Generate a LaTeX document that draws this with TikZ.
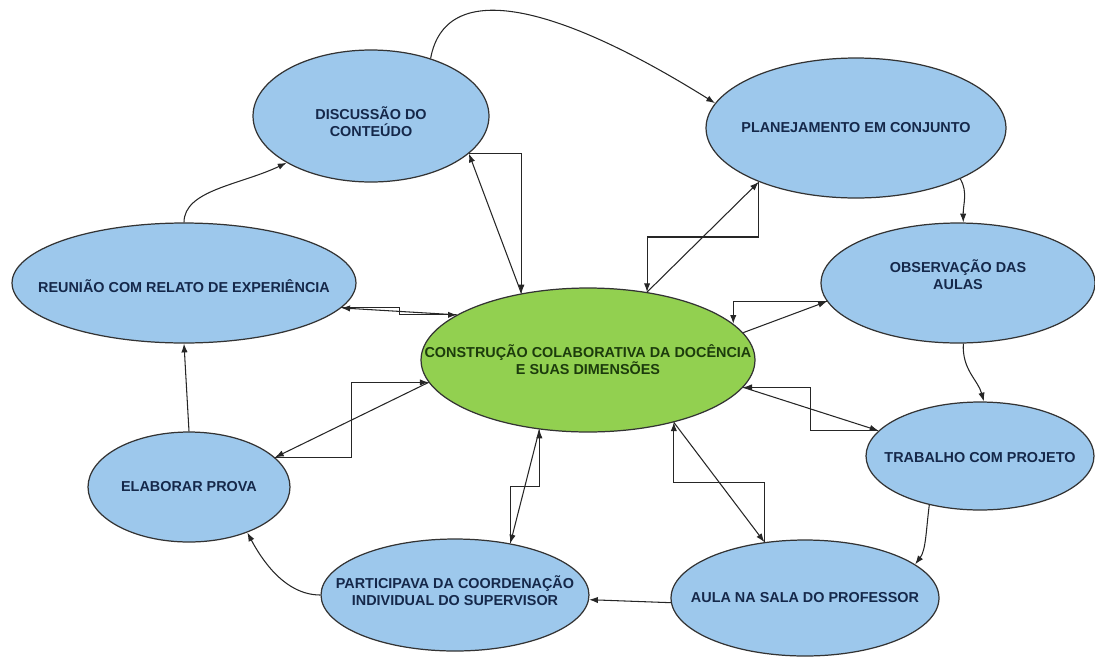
\documentclass[tikz,border=0pt]{standalone}
\usepackage{fontspec}
\setmainfont{Liberation Sans}
\usetikzlibrary{shapes.geometric,arrows.meta,calc}
\definecolor{bubbleblue}{HTML}{9DC8EC}
\definecolor{bubblegreen}{HTML}{92D050}
\definecolor{inkblue}{HTML}{15284A}
\definecolor{inkgreen}{HTML}{1C3B0C}

\tikzset{
  bubble/.style={ellipse, draw=black!80, line width=0.7pt, fill=bubbleblue, inner sep=0pt},
  core/.style={bubble, fill=bubblegreen},
  txt/.style={font=\fontsize{8.2}{9.6}\selectfont\bfseries, text=inkblue, align=center, inner sep=0pt},
  link/.style={black!85, line width=0.6pt, -{Latex[length=5pt,width=3.6pt]}},
}

\begin{document}
\begin{tikzpicture}[x=0.02cm, y=-0.02cm]
  \useasboundingbox (0,0) rectangle (1095,660);

  % centre
  \node[core, minimum width=6.68cm, minimum height=2.88cm] (cen) at (588,360) {};
  \node[txt, text=inkgreen] (cen-t) at (cen) {CONSTRUÇÃO COLABORATIVA DA DOCÊNCIA\\E SUAS DIMENSÕES};

  % outer ring (last field: shift of the text)
  \foreach \n/\x/\y/\w/\h/\t/\dy in {
    disc/371/116/4.72cm/2.64cm/{DISCUSSÃO DO\\CONTEÚDO}/6,
    plan/856/128/6.0cm/2.8cm/{PLANEJAMENTO EM CONJUNTO}/0,
    obs/958/283/5.48cm/2.4cm/{OBSERVAÇÃO DAS\\AULAS}/-8,
    trab/980/456/4.56cm/2.16cm/{TRABALHO COM PROJETO}/2,
    aula/805/598/5.36cm/2.32cm/{AULA NA SALA DO PROFESSOR}/0,
    part/455/595/5.36cm/2.24cm/{PARTICIPAVA DA COORDENAÇÃO\\INDIVIDUAL DO SUPERVISOR}/-4,
    elab/189/487/4.04cm/2.2cm/{ELABORAR PROVA}/0,
    reu/184/283/6.88cm/2.4cm/{REUNIÃO COM RELATO DE EXPERIÊNCIA}/3
  }{
    \node[bubble, minimum width=\w, minimum height=\h] (\n) at (\x,\y) {};
    \node[txt] (\n-t) at (\x,\y+\dy) {\t};
  }

  % cycle round the centre
  \draw[link] (reu.90) .. controls (184,190) and (240,185) .. (disc.209);
  \draw[link] (disc.44) .. controls (445,-20) and (550,0) .. (plan.170);
  \draw[link] (plan.334) .. controls (968,192) and (963,205) .. (obs.85);
  \draw[link] (obs.275) .. controls (962,370) and (978,380) .. (trab.86);
  \draw[link] (trab.224) .. controls (926,530) and (926,550) .. (aula.17);
  \draw[link] (aula.182) -- (part.358);
  \draw[link] (part.180) .. controls (285,595) and (262,560) .. (elab.322);
  \draw[link] (elab.90) -- (reu.270);

  % centre links: straight one out, stepped one back
  \foreach \o/\a/\b in {disc/339/135, plan/209/49, obs/188/10, trab/166/350,
                        aula/126/324, part/43/235, elab/19/188, reu/351/161}
    \draw[link] (cen.\b) -- (\o.\a);
  \draw[link] (disc.339) -| (cen.135);
  \draw[link] (plan.209) |- ($(plan.209)!.5!(cen.49)$) -| (cen.49);
  \draw[link] (obs.188) -| (cen.14);
  \draw[link] (trab.166) -| ($(trab.166)!.5!(cen.350)$) |- (cen.350);
  \draw[link] (aula.126) |- ($(aula.126)!.5!(cen.324)$) -| (cen.324);
  \draw[link] (part.43) |- ($(part.43)!.5!(cen.235)$) -| (cen.235);
  \draw[link] (elab.19) -| ($(elab.19)!.5!(cen.188)$) |- (cen.188);
  \draw[link] (reu.351) -| ($(reu.351)!.5!(cen.161)$) |- (cen.161);
\end{tikzpicture}
\end{document}
